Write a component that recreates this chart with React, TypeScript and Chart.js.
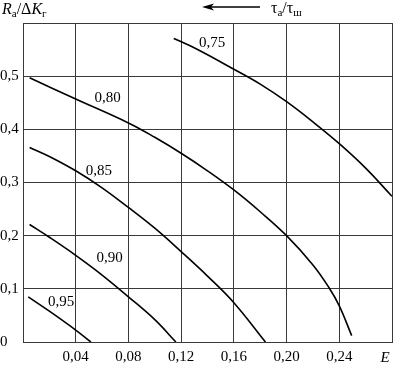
import React, { useEffect, useRef } from "react";
import { Chart, registerables } from "chart.js";

Chart.register(...registerables);

// Curve parameter values (tau_a / tau_sh)
const curveNames = ["0,75", "0,80", "0,85", "0,90", "0,95"];

// Series: E (x) and Ra/ΔKг (y)
const x075 = [0.1144, 0.131, 0.16, 0.18, 0.2, 0.22, 0.24, 0.26, 0.28];
const y075 = [0.571, 0.552, 0.513, 0.485, 0.452, 0.414, 0.373, 0.327, 0.274];

const x080 = [0.005, 0.04, 0.08, 0.1, 0.12, 0.14, 0.16, 0.18, 0.2, 0.22, 0.232, 0.24, 0.2494];
const y080 = [0.497, 0.457, 0.412, 0.385, 0.355, 0.322, 0.286, 0.245, 0.2, 0.145, 0.103, 0.068, 0.012];

const x085 = [0.005, 0.02, 0.04, 0.06, 0.08, 0.1, 0.12, 0.14, 0.16, 0.184];
const y085 = [0.366, 0.349, 0.322, 0.29, 0.253, 0.214, 0.17, 0.124, 0.074, 0];

const x090 = [0.005, 0.02, 0.04, 0.06, 0.08, 0.1, 0.116];
const y090 = [0.221, 0.197, 0.163, 0.126, 0.085, 0.042, 0];

const x095 = [0.004, 0.02, 0.04, 0.0515];
const y095 = [0.085, 0.058, 0.0225, 0];

// Curve label anchors (data units)
const labelX = [0.1436, 0.0643, 0.0575, 0.0657, 0.029];
const labelY = [0.563, 0.458, 0.321, 0.158, 0.075];

// Axis ranges / ticks
const xMin = 0, xMax = 0.28, xStep = 0.04;
const yMin = 0, yMax = 0.6, yStep = 0.1;

const xs = [x075, x080, x085, x090, x095];
const ys = [y075, y080, y085, y090, y095];

const SERIF = '"Liberation Serif", "Times New Roman", serif';

function drawSegments(ctx: CanvasRenderingContext2D, x: number, baseline: number, segs: [string, string, number][]) {
  let cx = x;
  for (const [txt, font, dy] of segs) {
    ctx.font = font;
    ctx.fillText(txt, cx, baseline + dy);
    cx += ctx.measureText(txt).width;
  }
}

const textPlugin = {
  id: "texts",
  afterDraw(chart: any) {
    const ctx: CanvasRenderingContext2D = chart.ctx;
    const xs_ = chart.scales.x;
    const ys_ = chart.scales.y;
    ctx.save();
    ctx.fillStyle = "#000";
    ctx.strokeStyle = "#000";
    // curve labels
    ctx.font = `15px ${SERIF}`;
    ctx.textAlign = "center";
    ctx.textBaseline = "middle";
    curveNames.forEach((n, i) => {
      ctx.fillText(n, xs_.getPixelForValue(labelX[i]), ys_.getPixelForValue(labelY[i]));
    });
    // E axis title
    ctx.font = `italic 15px ${SERIF}`;
    ctx.fillText("E", 385, 358);
    // Y axis title
    ctx.textAlign = "left";
    ctx.textBaseline = "alphabetic";
    drawSegments(ctx, 2, 14, [
      ["R", `italic 16px ${SERIF}`, 0],
      ["a", `11px ${SERIF}`, 3],
      ["/Δ", `16px ${SERIF}`, 0],
      ["K", `italic 16px ${SERIF}`, 0],
      ["г", `11px ${SERIF}`, 3],
    ]);
    // arrow
    ctx.lineWidth = 1.3;
    ctx.beginPath();
    ctx.moveTo(210, 7);
    ctx.lineTo(260, 7);
    ctx.stroke();
    ctx.beginPath();
    ctx.moveTo(202, 7);
    ctx.lineTo(214, 3.5);
    ctx.lineTo(211, 7);
    ctx.lineTo(214, 10.5);
    ctx.closePath();
    ctx.fill();
    drawSegments(ctx, 271, 13, [
      ["τ", `16px ${SERIF}`, 0],
      ["а", `11px ${SERIF}`, 3],
      ["/τ", `16px ${SERIF}`, 0],
      ["ш", `11px ${SERIF}`, 3],
    ]);
    ctx.restore();
  },
};

export default function App() {
  const ref = useRef<HTMLCanvasElement>(null);
  useEffect(() => {
    if (!ref.current) return;
    const gridColor = "#3a3a3a";
    const chart = new Chart(ref.current, {
      type: "line",
      data: {
        datasets: xs.map((xa, i) => ({
          label: curveNames[i],
          data: xa.map((x, j) => ({ x, y: ys[i][j] })),
          borderColor: "#000",
          borderWidth: 1.6,
          pointRadius: 0,
          fill: false,
          tension: 0.4,
        })),
      },
      options: {
        responsive: false,
        animation: false,
        events: [],
        layout: { padding: { top: 23, right: 1, left: 0, bottom: 0 } },
        plugins: { legend: { display: false }, tooltip: { enabled: false }, title: { display: false } },
        scales: {
          x: {
            type: "linear",
            min: xMin,
            max: xMax,
            afterFit: (s: any) => { s.height = 30; },
            ticks: {
              stepSize: xStep,
              autoSkip: false,
              maxRotation: 0,
              padding: 6,
              color: "#000",
              font: { family: SERIF, size: 15 },
              callback: (v: any) => {
                const n = Math.round(Number(v) / xStep);
                if (n === 0 || n === 7) return "";
                return (n * xStep).toFixed(2).replace(".", ",");
              },
            },
            grid: { color: gridColor, lineWidth: 1, drawTicks: false },
            border: { display: true, color: gridColor, width: 1 },
          },
          y: {
            type: "linear",
            min: yMin,
            max: yMax,
            afterFit: (s: any) => { s.width = 23; },
            ticks: {
              stepSize: yStep,
              crossAlign: "far",
              padding: 0,
              color: "#000",
              font: { family: SERIF, size: 15 },
              callback: (v: any) => {
                const n = Math.round(Number(v) / yStep);
                if (n === 6) return "";
                if (n === 0) return "0";
                return (n * yStep).toFixed(1).replace(".", ",");
              },
            },
            grid: { color: gridColor, lineWidth: 1, drawTicks: false },
            border: { display: true, color: gridColor, width: 1 },
          },
        },
      },
      plugins: [textPlugin],
    });
    return () => chart.destroy();
  }, []);
  return (
    <div style={{ position: "absolute", left: 0, top: 0, width: 398, height: 372, background: "#fff" }}>
      <canvas ref={ref} width={398} height={372} style={{ display: "block" }} />
    </div>
  );
}
